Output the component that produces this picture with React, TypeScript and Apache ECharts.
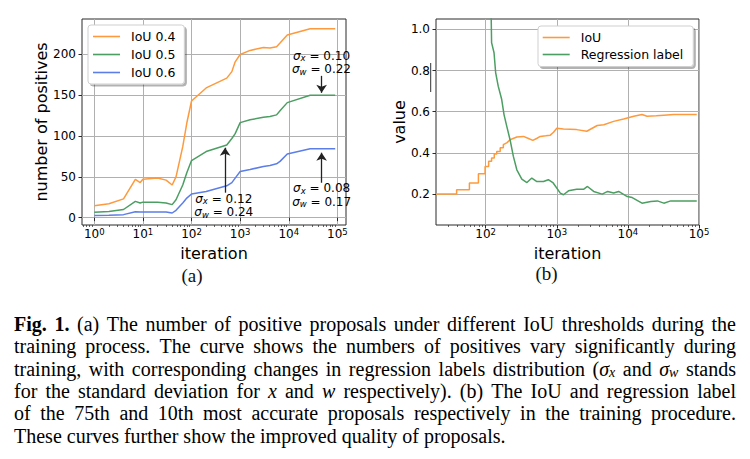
import React, { useEffect, useRef } from 'react';
import * as echarts from 'echarts';

// ---------- data ----------
const iterA = [1, 2, 4, 7, 8.8, 10, 20, 30, 40, 48, 66, 80, 100, 200, 530, 675, 790, 1000, 1600, 3000, 4100, 5600, 6600, 9300, 27500, 90000];
const posIoU04 = [14.5, 17, 23, 47, 43, 47, 48.5, 46, 40, 50, 87, 116, 143, 159, 171, 179, 191, 200, 205, 208.5, 208, 209.5, 214, 224, 231.5, 231.5];
const posIoU05 = [6.5, 7.5, 10, 20, 18, 19, 19, 18, 16, 22, 40, 55, 70, 81, 89, 97, 103, 116.5, 120, 123, 124, 126, 131, 141, 150, 150];
const posIoU06 = [2.5, 3, 3.7, 7.3, 6.8, 7, 7, 7, 5.7, 9, 18, 24, 29, 32, 39, 43, 48.5, 56.5, 59, 62.8, 64, 66, 69, 78, 84.5, 84.5];

const iterIoU = [20, 39, 39, 59, 59, 79, 79, 98, 98, 110, 110, 121, 121, 132, 132, 143, 143, 160, 160, 177, 177, 200, 220, 274, 340, 400, 460, 520, 585, 700, 810, 900, 1000, 1240, 1900, 2640, 3700, 4580, 6300, 8700, 12100, 15800, 18600, 25000, 32000, 44000, 93000];
const iouValues = [0.2, 0.2, 0.221, 0.221, 0.254, 0.254, 0.299, 0.299, 0.334, 0.334, 0.36, 0.36, 0.375, 0.375, 0.395, 0.395, 0.407, 0.407, 0.425, 0.425, 0.44, 0.45, 0.464, 0.477, 0.48, 0.47, 0.461, 0.47, 0.48, 0.483, 0.486, 0.5, 0.52, 0.516, 0.513, 0.505, 0.533, 0.537, 0.553, 0.565, 0.578, 0.586, 0.578, 0.58, 0.583, 0.586, 0.586];
const iterReg = [119, 121, 131, 138, 150, 168, 181, 198, 220, 245, 274, 322, 380, 445, 525, 650, 760, 890, 1120, 1240, 1460, 1900, 2400, 2700, 3300, 4350, 5200, 6300, 7400, 9800, 11500, 15800, 21000, 26000, 32000, 40000, 93000];
const regValues = [1.1, 0.935, 0.886, 0.79, 0.724, 0.659, 0.586, 0.529, 0.464, 0.383, 0.318, 0.273, 0.256, 0.278, 0.261, 0.261, 0.27, 0.254, 0.205, 0.197, 0.216, 0.224, 0.224, 0.237, 0.213, 0.2, 0.213, 0.205, 0.213, 0.188, 0.183, 0.156, 0.164, 0.167, 0.156, 0.167, 0.167];

const xTicksA = [1, 10, 100, 1000, 10000, 100000];
const xTicksB = [100, 1000, 10000, 100000];
const yTicksA = [0, 50, 100, 150, 200];
const yTicksB = [0.2, 0.4, 0.6, 0.8, 1.0];

// annotations (data space): sigma_x, sigma_w, text anchor, arrow x, arrow from, arrow to
const annotSx = ['0.12', '0.10', '0.08'];
const annotSw = ['0.24', '0.22', '0.17'];
const annotTextAt = [[460, 14.7], [47000, 190], [47300, 27.5]];
const annotArrow = [[490, 30.6, 85.7], [47300, 173.8, 153], [47300, 42.8, 79.6]];

const captionLines = [
  '**Fig.** **1.** (a) The number of positive proposals under different IoU thresholds during the',
  'training process. The curve shows the numbers of positives vary significantly during',
  'training, with corresponding changes in regression labels distribution (σ_x and σ_w stands',
  'for the standard deviation for $x$ and $w$ respectively). (b) The IoU and regression label',
  'of the 75th and 10th most accurate proposals respectively in the training procedure.',
  'These curves further show the improved quality of proposals.',
];

// ---------- styling ----------
const SANS = 'DejaVu Sans';
const SERIF = 'Liberation Serif';
const C_OR = '#fe9a3d';
const C_GR = '#4c9e62';
const C_BL = '#5c7ee8';
const FRAME = '#2a2a2a';
const GRIDC = '#b0b0b0';

function minorTicks(lo: number, hi: number): number[] {
  const out: number[] = [];
  for (let k = Math.floor(Math.log10(lo)); k <= Math.ceil(Math.log10(hi)); k++) {
    for (let m = 2; m <= 9; m++) {
      const v = m * Math.pow(10, k);
      if (v > lo && v < hi) out.push(v);
    }
  }
  return out;
}

const logRich = {
  b: { fontFamily: SANS, fontSize: 12, color: '#000', lineHeight: 14 },
  s: { fontFamily: SANS, fontSize: 8.5, color: '#000', lineHeight: 9, verticalAlign: 'top' },
};

function mainLogX(gridIndex: number, min: number, max: number, ticks: number[]) {
  return {
    type: 'log', logBase: 10, gridIndex, min, max, position: 'bottom',
    axisLine: { show: false },
    axisTick: { show: true, customValues: ticks, length: 3.5, lineStyle: { color: FRAME, width: 1 } },
    axisLabel: {
      customValues: ticks, margin: 2,
      formatter: (v: number) => `{b|10}{s|${Math.round(Math.log10(v))}}`,
      rich: logRich,
    },
    splitLine: { show: true, lineStyle: { color: GRIDC, width: 1 } },
    name: 'iteration', nameLocation: 'middle', nameGap: 20,
    nameTextStyle: { fontFamily: SANS, fontSize: 16, color: '#000' },
  };
}
function minorLogX(gridIndex: number, min: number, max: number) {
  return {
    type: 'log', logBase: 10, gridIndex, min, max, position: 'bottom', offset: 0,
    axisLine: { show: false }, axisLabel: { show: false }, splitLine: { show: false },
    axisTick: { show: true, customValues: minorTicks(min, max), length: 2, lineStyle: { color: FRAME, width: 0.7 } },
  };
}
function valueY(gridIndex: number, min: number, max: number, ticks: number[], name: string, gap: number, dec: number) {
  return {
    type: 'value', gridIndex, min, max,
    axisLine: { show: false },
    axisTick: { show: true, customValues: ticks, length: 3.5, lineStyle: { color: FRAME, width: 1 } },
    axisLabel: { customValues: ticks, margin: 6, fontFamily: SANS, fontSize: 12, color: '#000', formatter: (v: number) => v.toFixed(dec) },
    splitLine: { show: true, lineStyle: { color: GRIDC, width: 1 } },
    name, nameLocation: 'middle', nameGap: gap, nameRotate: 90,
    nameTextStyle: { fontFamily: SANS, fontSize: 16, color: '#000' },
  };
}

const annRich = {
  i: { fontFamily: SANS, fontStyle: 'italic', fontSize: 12, color: '#000', lineHeight: 13.5 },
  sb: { fontFamily: SANS, fontStyle: 'italic', fontSize: 8.5, color: '#000', lineHeight: 9, verticalAlign: 'bottom' },
  t: { fontFamily: SANS, fontSize: 12, color: '#000', lineHeight: 13.5 },
};

// ---------- caption layout ----------
type Seg = { t: string; s: string };
function parseWord(w: string): Seg[] {
  const m = w.match(/^\*\*(.+)\*\*$/);
  if (m) return [{ t: m[1], s: 'b' }];
  const segs: Seg[] = [];
  const re = /σ_([xw])|\$([a-z])\$/g;
  let last = 0;
  let r: RegExpExecArray | null;
  while ((r = re.exec(w))) {
    if (r.index > last) segs.push({ t: w.slice(last, r.index), s: 'r' });
    if (r[1]) { segs.push({ t: 'σ', s: 'i' }); segs.push({ t: r[1], s: 'sub' }); }
    else segs.push({ t: r[2], s: 'i' });
    last = re.lastIndex;
  }
  if (last < w.length) segs.push({ t: w.slice(last), s: 'r' });
  return segs;
}
const CAP_SIZE = 20;
const CAP_SUB = 14;
function fontOf(s: string) {
  const fam = `"${SERIF}", serif`;
  if (s === 'b') return `bold ${CAP_SIZE}px ${fam}`;
  if (s === 'i') return `italic ${CAP_SIZE}px ${fam}`;
  if (s === 'sub') return `italic ${CAP_SUB}px ${fam}`;
  return `${CAP_SIZE}px ${fam}`;
}
const capRich = {
  r: { fontFamily: SERIF, fontSize: CAP_SIZE, lineHeight: 22, color: '#111' },
  b: { fontFamily: SERIF, fontSize: CAP_SIZE, fontWeight: 'bold', lineHeight: 22, color: '#111' },
  i: { fontFamily: SERIF, fontSize: CAP_SIZE, fontStyle: 'italic', lineHeight: 22, color: '#111' },
  sub: { fontFamily: SERIF, fontSize: CAP_SUB, fontStyle: 'italic', lineHeight: 12, verticalAlign: 'bottom', color: '#111' },
};

function buildCaption() {
  const cv = document.createElement('canvas');
  const ctx = cv.getContext('2d')!;
  const measure = (t: string, s: string) => { ctx.font = fontOf(s); return ctx.measureText(t).width; };
  const X0 = 14, W = 722, TOP0 = 313, LH = 22.3;
  const spaceW = measure(' ', 'r');
  const lines = captionLines.map((ln) => ln.split(' ').map((w) => {
    const segs = parseWord(w);
    const width = segs.reduce((a, g) => a + measure(g.t, g.s), 0);
    const text = segs.map((g) => `{${g.s}|${g.t}}`).join('');
    return { width, text };
  }));
  let maxNat = 0;
  lines.forEach((ws) => {
    const nat = ws.reduce((a, w) => a + w.width, 0) + (ws.length - 1) * spaceW * 0.85;
    if (nat > maxNat) maxNat = nat;
  });
  const sc = Math.min(1, W / maxNat);
  const WL = W / sc;
  const children: any[] = [];
  lines.forEach((ws, li) => {
    const sum = ws.reduce((a, w) => a + w.width, 0);
    const isLast = li === lines.length - 1;
    const gap = isLast ? spaceW : (WL - sum) / (ws.length - 1);
    let x = 0;
    ws.forEach((w) => {
      children.push({
        type: 'text', x, y: TOP0 + li * LH,
        style: { text: w.text, rich: capRich, align: 'left', verticalAlign: 'top' },
      });
      x += w.width + gap;
    });
  });
  return { type: 'group', x: X0, y: 0, scaleX: sc, children };
}

export default function App() {
  const ref = useRef<HTMLDivElement>(null);
  useEffect(() => {
    if (!ref.current) return;
    const chart = echarts.init(ref.current, undefined, { renderer: 'svg' });
    const pairs = (xs: number[], ys: number[]) => xs.map((x, i) => [x, ys[i]]);
    const lineSeries = (name: string, color: string, data: number[][], xi: number, yi: number, extra: any = {}) => ({
      type: 'line', name, data, xAxisIndex: xi, yAxisIndex: yi, symbol: 'none', showSymbol: false,
      lineStyle: { color, width: 1.5 }, itemStyle: { color }, clip: true, ...extra,
    });
    const legendBase = {
      orient: 'vertical', itemWidth: 27, itemHeight: 1.6, icon: 'rect',
      backgroundColor: '#fff', borderColor: '#cfcfcf', borderWidth: 1, borderRadius: 3,
      shadowColor: 'rgba(0,0,0,0.3)', shadowBlur: 0, shadowOffsetX: 2, shadowOffsetY: 2,
      textStyle: { fontFamily: SANS, fontSize: 12.5, color: '#000', padding: [0, 0, 0, 6] },
      selectedMode: false,
    };
    chart.setOption({
      animation: false,
      backgroundColor: '#fff',
      grid: [
        { left: 82, top: 19, width: 264, height: 206, show: true, borderColor: FRAME, borderWidth: 1, backgroundColor: 'transparent' },
        { left: 436, top: 19, width: 263, height: 206, show: true, borderColor: FRAME, borderWidth: 1, backgroundColor: 'transparent' },
      ],
      xAxis: [
        mainLogX(0, 0.56, 150000, xTicksA),
        mainLogX(1, 20, 100000, xTicksB),
        minorLogX(0, 0.56, 150000),
        minorLogX(1, 20, 100000),
      ],
      yAxis: [
        valueY(0, -9, 243.5, yTicksA, 'number of positives', 33, 0),
        valueY(1, 0.05, 1.05, yTicksB, 'value', 29, 1),
      ],
      legend: [
        { ...legendBase, data: ['IoU 0.4', 'IoU 0.5', 'IoU 0.6'], left: 88, top: 25, itemGap: 5, padding: [5, 9, 5, 5] },
        { ...legendBase, data: ['IoU', 'Regression label'], left: 538, top: 26, itemGap: 4, padding: [5, 10, 5.5, 4.7] },
      ],
      series: [
        lineSeries('IoU 0.4', C_OR, pairs(iterA, posIoU04), 0, 0),
        lineSeries('IoU 0.5', C_GR, pairs(iterA, posIoU05), 0, 0, {
          markLine: {
            silent: true, symbol: ['none', 'arrow'], symbolSize: 8,
            lineStyle: { color: '#222', width: 1.3, type: 'solid' }, label: { show: false },
            data: annotArrow.map((a) => [{ coord: [a[0], a[1]] }, { coord: [a[0], a[2]] }]),
          },
          markPoint: {
            silent: true, symbol: 'circle', symbolSize: 1, itemStyle: { color: 'rgba(0,0,0,0)' },
            data: annotTextAt.map((p, k) => ({
              coord: p,
              label: {
                show: true, position: 'inside', align: 'center', verticalAlign: 'middle',
                formatter: `{i|σ}{sb|x}{t| = ${annotSx[k]}}\n{i|σ}{sb|w}{t| = ${annotSw[k]}}`,
                rich: annRich,
              },
            })),
          },
        }),
        lineSeries('IoU 0.6', C_BL, pairs(iterA, posIoU06), 0, 0),
        lineSeries('IoU', C_OR, pairs(iterIoU, iouValues), 1, 1),
        lineSeries('Regression label', C_GR, pairs(iterReg, regValues), 1, 1),
      ],
      graphic: [
        { type: 'line', shape: { x1: 430.7, y1: 63, x2: 430.7, y2: 92 }, style: { stroke: '#333', lineWidth: 1 } },
        { type: 'text', x: 192, y: 275, style: { text: '(a)', font: `19px "${SERIF}"`, fill: '#111', align: 'center', verticalAlign: 'middle' } },
        { type: 'text', x: 546.5, y: 273, style: { text: '(b)', font: `19px "${SERIF}"`, fill: '#111', align: 'center', verticalAlign: 'middle' } },
        buildCaption(),
      ],
    });
    return () => chart.dispose();
  }, []);
  return <div ref={ref} style={{ position: 'fixed', left: 0, top: 0, width: 750, height: 459 }} />;
}
